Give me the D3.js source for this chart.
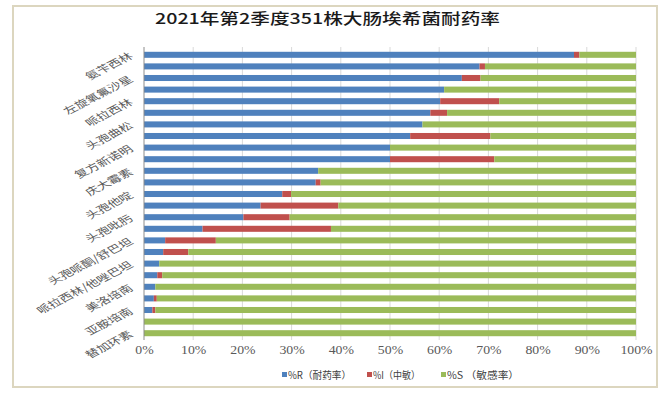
<!DOCTYPE html>
<html><head><meta charset="utf-8">
<script src="https://cdn.jsdelivr.net/npm/d3@7"></script>
<style>body{margin:0;background:#fff}svg{display:block}</style>
</head><body>
<svg id="c" width="669" height="394"></svg>
<script>
const title = "2021年第2季度351株大肠埃希菌耐药率";
const categories = ["氨苄西林","头孢唑林","左旋氧氟沙星","环丙沙星","哌拉西林","头孢呋辛","头孢曲松","氨苄西林/舒巴坦","复方新诺明","头孢噻肟","庆大霉素","妥布霉素","头孢他啶","氨曲南","头孢吡肟","阿莫西林/克拉维酸","头孢哌酮/舒巴坦","头孢西丁","哌拉西林/他唑巴坦","阿米卡星","美洛培南","厄他培南","亚胺培南","呋喃妥因","替加环素"];
const rateR = [87.4,68.2,64.6,61.0,60.2,58.2,56.6,54.1,50.0,50.0,35.4,34.9,28.1,23.7,20.2,11.9,4.3,3.9,3.1,2.7,2.3,2.0,1.7,0,0];
const rateI = [1.1,1.1,3.8,0,12.0,3.4,0,16.3,0,21.2,0,1.0,1.8,15.8,9.4,26.1,10.3,5.1,0,1.0,0,0.6,0.6,0,0];
const rateS = [11.5,30.7,31.6,39.0,27.8,38.4,43.4,29.6,50.0,28.8,64.6,64.1,70.1,60.5,70.4,62.0,85.4,91.0,96.9,96.3,97.7,97.4,97.7,100,100];
const seriesNames = ["%R（耐药率）","%I（中敏）","%S （敏感率）"];
const colors = ["#4f81bd","#c0504d","#9bbb59"];
const xTicks = [0,10,20,30,40,50,60,70,80,90,100];

const svg = d3.select("#c");
const cjk = "'Noto Sans CJK SC','Noto Sans',sans-serif";

// frame
svg.append("rect").attr("x",13).attr("y",6).attr("width",644).attr("height",381)
  .attr("fill","#fff").attr("stroke","#dcd6bf").attr("stroke-width",2);

// title
svg.append("text").attr("x",155).attr("y",24).text(title)
  .attr("font-family",cjk).attr("font-size",15).attr("font-weight",500).attr("fill","#1a1a1a")
  .attr("textLength",345).attr("lengthAdjust","spacingAndGlyphs");

const x = d3.scaleLinear().domain([0,100]).range([144,636]);
const y = d3.scaleBand().domain(categories).range([49,339]).paddingInner(0.48).paddingOuter(0.24);

// gridlines
svg.append("g").selectAll("line").data(xTicks.slice(1)).join("line")
  .attr("x1",d=>x(d)).attr("x2",d=>x(d)).attr("y1",47).attr("y2",340)
  .attr("stroke","#d9d9d9").attr("stroke-width",1);

// stacked data
const rows = categories.map((c,i)=>({cat:c, R:rateR[i], I:rateI[i], S:rateS[i]}));
const stack = d3.stack().keys(["R","I","S"])(rows);
svg.append("g").selectAll("g").data(stack).join("g").attr("fill",(d,i)=>colors[i])
  .selectAll("rect").data(d=>d).join("rect")
  .attr("x",d=>x(d[0])).attr("width",d=>Math.max(0,x(d[1])-x(d[0])))
  .attr("y",d=>y(d.data.cat)).attr("height",y.bandwidth());

// y axis line
svg.append("line").attr("x1",144).attr("x2",144).attr("y1",47).attr("y2",340)
  .attr("stroke","#8c8c8c").attr("stroke-width",1);

// x axis labels
const xAxis = d3.axisBottom(x).tickValues(xTicks).tickFormat(d=>d+"%").tickSize(0).tickPadding(0);
const gx = svg.append("g").attr("transform","translate(0,345)").call(xAxis);
gx.select(".domain").remove();
gx.selectAll("text").attr("font-family","'Liberation Serif',serif").attr("font-size",12)
  .attr("fill","#595959").attr("transform","scale(1.15,1)");

// y labels (every other)
svg.append("g").selectAll("text").data(categories.filter((c,i)=>i%2===0)).join("text")
  .attr("transform",d=>`translate(131,${y(d)+y.bandwidth()/2}) scale(1.45,1) rotate(-37)`)
  .attr("text-anchor","end").attr("dy","0.35em")
  .attr("font-family",cjk).attr("font-size",9.5).attr("fill","#595959")
  .text(d=>d);

// legend
const legX = [282,367,441], legW = [63,47,72];
const leg = svg.append("g").selectAll("g").data(seriesNames).join("g");
leg.append("rect").attr("x",(d,i)=>legX[i]).attr("y",372).attr("width",5).attr("height",5).attr("fill",(d,i)=>colors[i]);
leg.append("text").attr("x",(d,i)=>legX[i]+6).attr("y",378.5).text(d=>d)
  .attr("font-family",cjk).attr("font-size",10).attr("fill","#404040")
  .attr("textLength",(d,i)=>legW[i]).attr("lengthAdjust","spacingAndGlyphs");
</script>
</body></html>
